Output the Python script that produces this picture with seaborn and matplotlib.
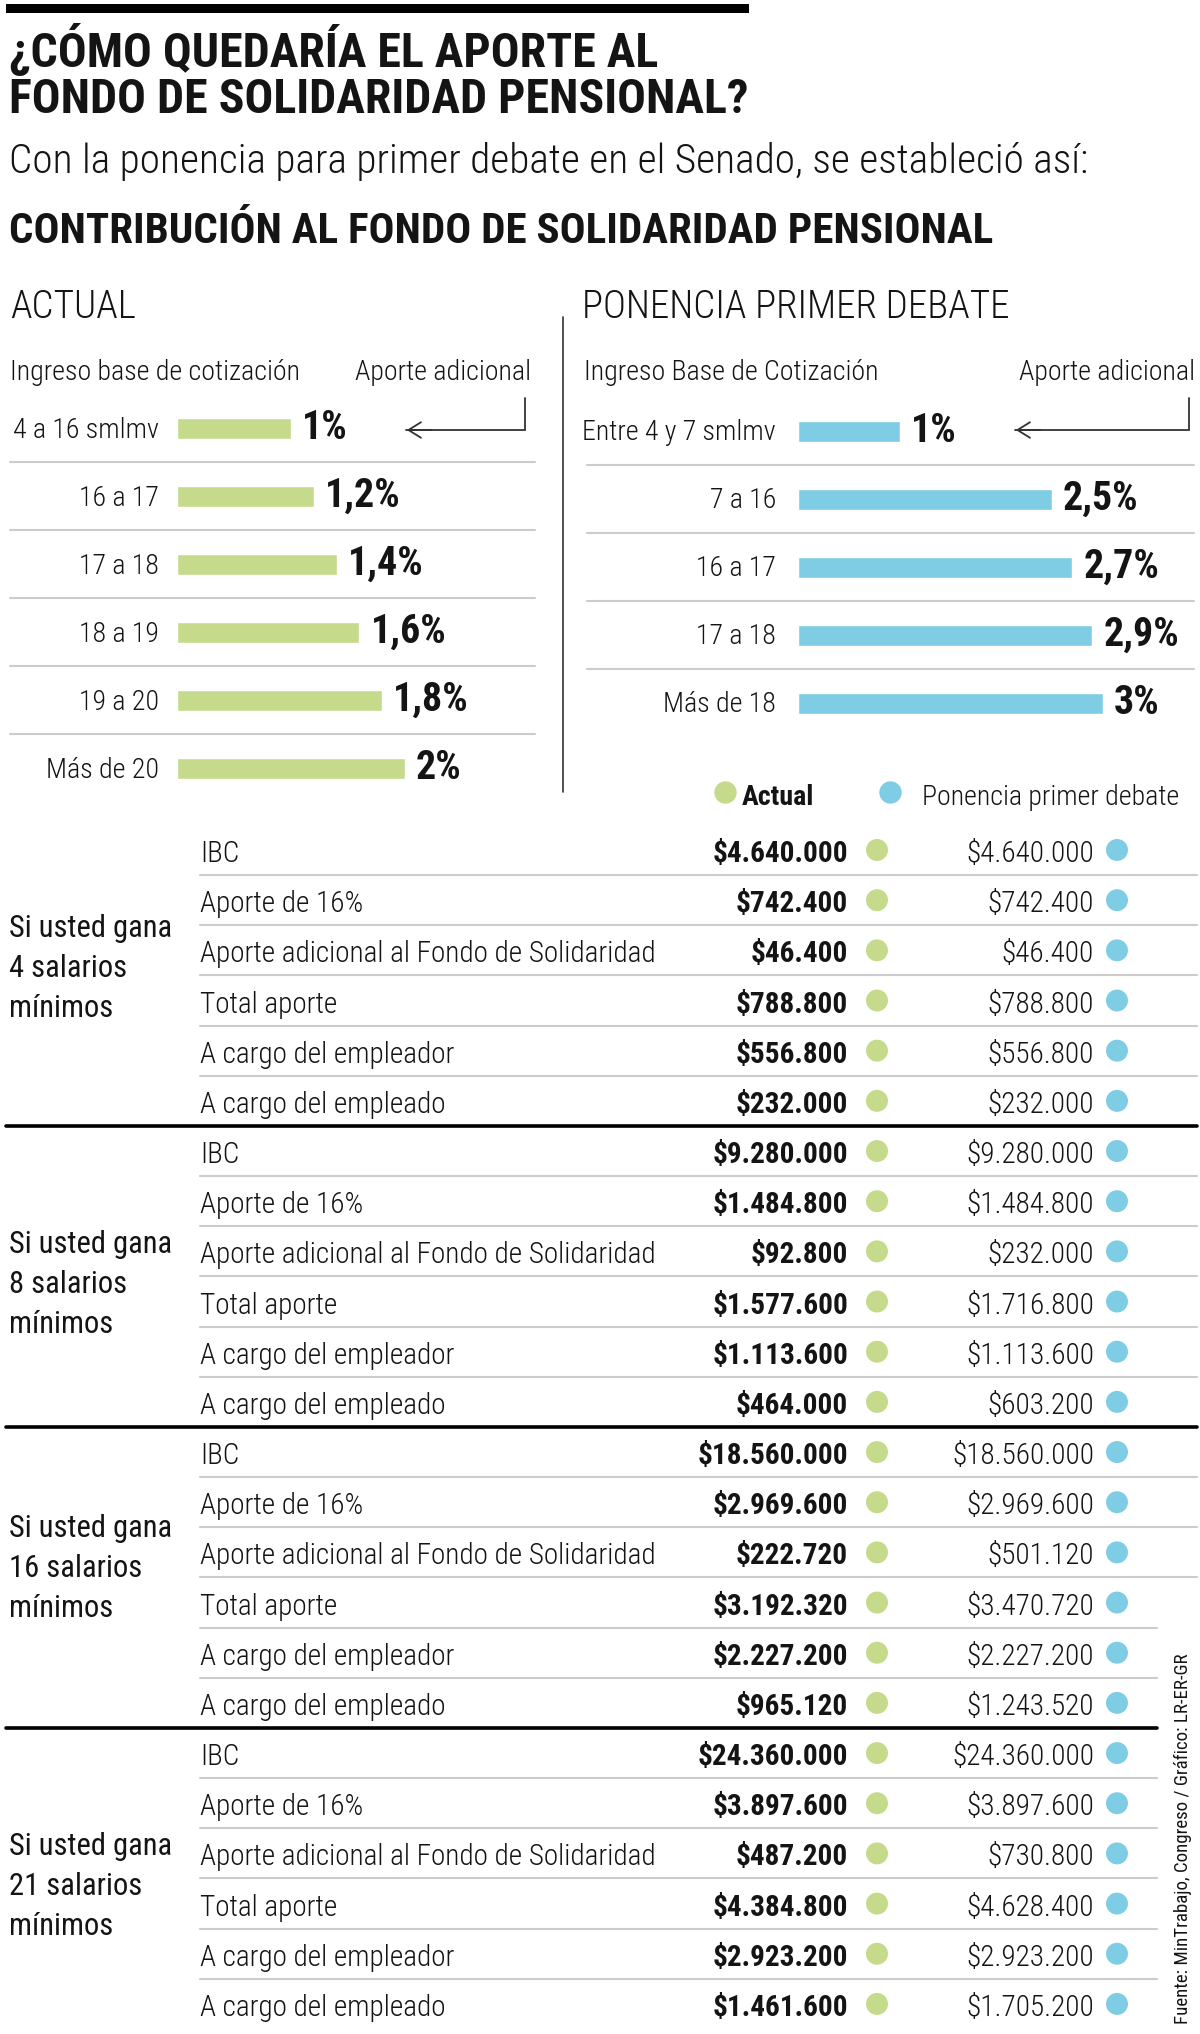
import numpy as np
import pandas as pd
import matplotlib
matplotlib.use("Agg")
import matplotlib.pyplot as plt
from matplotlib.patches import Rectangle
from matplotlib import font_manager as fm
import seaborn as sns

# ---------------- data ----------------
title_lines = ["¿CÓMO QUEDARÍA EL APORTE AL", "FONDO DE SOLIDARIDAD PENSIONAL?"]
subtitle = "Con la ponencia para primer debate en el Senado, se estableció así:"
section_title = "CONTRIBUCIÓN AL FONDO DE SOLIDARIDAD PENSIONAL"
panel_titles = ["ACTUAL", "PONENCIA PRIMER DEBATE"]
ibc_headers = ["Ingreso base de cotización", "Ingreso Base de Cotización"]
aporte_header = "Aporte adicional"

actual_ranges = ["4 a 16 smlmv", "16 a 17", "17 a 18", "18 a 19", "19 a 20", "Más de 20"]
actual_rates = [1.0, 1.2, 1.4, 1.6, 1.8, 2.0]
ponencia_ranges = ["Entre 4 y 7 smlmv", "7 a 16", "16 a 17", "17 a 18", "Más de 18"]
ponencia_rates = [1.0, 2.5, 2.7, 2.9, 3.0]

series_names = ["Actual", "Ponencia primer debate"]
group_labels = [
    ["Si usted gana", "4 salarios", "mínimos"],
    ["Si usted gana", "8 salarios", "mínimos"],
    ["Si usted gana", "16 salarios", "mínimos"],
    ["Si usted gana", "21 salarios", "mínimos"],
]
row_labels = ["IBC", "Aporte de 16%", "Aporte adicional al Fondo de Solidaridad",
              "Total aporte", "A cargo del empleador", "A cargo del empleado"]

actual_4 = [4640000, 742400, 46400, 788800, 556800, 232000]
actual_8 = [9280000, 1484800, 92800, 1577600, 1113600, 464000]
actual_16 = [18560000, 2969600, 222720, 3192320, 2227200, 965120]
actual_21 = [24360000, 3897600, 487200, 4384800, 2923200, 1461600]

ponencia_4 = [4640000, 742400, 46400, 788800, 556800, 232000]
ponencia_8 = [9280000, 1484800, 232000, 1716800, 1113600, 603200]
ponencia_16 = [18560000, 2969600, 501120, 3470720, 2227200, 1243520]
ponencia_21 = [24360000, 3897600, 730800, 4628400, 2923200, 1705200]

source_text = "Fuente: MinTrabajo, Congreso / Gráfico: LR-ER-GR"

# ---------------- style ----------------
GREEN = "#c5da8b"
BLUE = "#7fcde5"
INK = "#141414"
GRID = "#cccccc"

sns.set_theme(style="white")
fonts = fm.fontManager.ttflist
names = {f.name for f in fonts}


def pick(cands):
    for c in cands:
        if c in names:
            return c
    return "DejaVu Sans"


COND = pick(["Liberation Sans Narrow", "Roboto Condensed", "DejaVu Sans Condensed",
             "Open Sans Condensed", "Liberation Sans"])
has_light = any(f.name == COND and f.weight in (300, "light") for f in fonts)
LIGHT = "light" if has_light else "normal"
plt.rcParams["font.family"] = [COND, "DejaVu Sans"]

W, H = 1200, 2034
fig = plt.figure(figsize=(W / 100, H / 100), dpi=100)
fig.patch.set_facecolor("white")
renderer = fig.canvas.get_renderer()


def fit(s, target, weight="normal", family=COND):
    t = fig.text(0, 0, s, fontsize=20, fontweight=weight, family=family)
    w = t.get_window_extent(renderer).width
    t.remove()
    return 20.0 * target / w


ax = fig.add_axes([0, 0, 1, 1])
ax.set_xlim(0, W)
ax.set_ylim(H, 0)
ax.axis("off")


def px_axes(x0, y0, x1, y1):
    return fig.add_axes([x0 / W, 1 - y1 / H, (x1 - x0) / W, (y1 - y0) / H])


def txt(x, y, s, size, weight=None, ha="left", va="baseline", family=COND, **kw):
    ax.text(x, y, s, fontsize=size, fontweight=weight or LIGHT, ha=ha, va=va,
            family=family, color=INK, **kw)


# sizes fitted to widths measured on the reference
S_title = fit(title_lines[1], 740, "bold")
S_sub = fit(subtitle, 1074, LIGHT)
S_sec = fit(section_title, 986, "bold")
S_panel = fit(panel_titles[1], 429, LIGHT)
S_head = fit(ibc_headers[0], 290, LIGHT)
S_row = fit(row_labels[2], 455, LIGHT)
S_barv = fit("1,2%", 76, "bold")
S_group = fit("Si usted gana", 163, "normal")
S_src = fit(source_text, 370, "normal")

# ---------------- header ----------------
ax.add_patch(Rectangle((6, 4), 743, 9, color="black", lw=0))
txt(9, 67, title_lines[0], S_title, "bold")
txt(9, 113, title_lines[1], S_title, "bold")
txt(9, 173, subtitle, S_sub)
txt(9, 243, section_title, S_sec, "bold")
txt(10, 318, panel_titles[0], S_panel)
txt(582, 318, panel_titles[1], S_panel)
txt(10, 380, ibc_headers[0], S_head)
txt(531, 380, aporte_header, S_head, ha="right")
txt(584, 380, ibc_headers[1], S_head)
txt(1195, 380, aporte_header, S_head, ha="right")

# divider
ax.plot([563, 563], [317, 792], color="#333333", lw=1.2)

# arrows
for xr, xl in [(525, 404), (1189, 1013)]:
    ax.plot([xr, xr, xl + 2], [398, 430, 430], color="#333333", lw=1.3, solid_joinstyle="miter")
    ax.annotate("", xy=(xl, 430), xytext=(xl + 30, 430),
                arrowprops=dict(arrowstyle="->,head_length=0.45,head_width=0.28",
                                mutation_scale=20, color="#333333", lw=1.3))


def fmt_rate(v):
    return f"{v:g}".replace(".", ",") + "%"


# ---------------- left bars ----------------
PX_L = 114.0
yc0_L, step = 428, 68
axL = px_axes(177, yc0_L - step / 2, 177 + PX_L * 2.8, yc0_L + step * (len(actual_rates) - 0.5))
dfL = pd.DataFrame({"rango": actual_ranges, "aporte": actual_rates})
sns.barplot(data=dfL, x="aporte", y="rango", orient="h", color=GREEN, saturation=1,
            width=21 / 68, errorbar=None, ax=axL)
axL.set_xlim(0, 2.8)
axL.set_ylim(len(actual_rates) - 0.5, -0.5)
axL.axis("off")
axL.bar_label(axL.containers[0], labels=[fmt_rate(v) for v in actual_rates], padding=8,
              fontsize=S_barv, fontweight="bold", color=INK, family=COND)
for i, lab in enumerate(actual_ranges):
    txt(159, yc0_L + step * i + 10, lab, S_head, ha="right")
for i in range(len(actual_rates) - 1):
    y = yc0_L + step * i + step / 2
    ax.plot([10, 535], [y, y], color=GRID, lw=1.5)

# ---------------- right bars ----------------
PX_R = 101.5
yc0_R = 431
axR = px_axes(798, yc0_R - step / 2, 798 + PX_R * 3.9, yc0_R + step * (len(ponencia_rates) - 0.5))
dfR = pd.DataFrame({"rango": ponencia_ranges, "aporte": ponencia_rates})
sns.barplot(data=dfR, x="aporte", y="rango", orient="h", color=BLUE, saturation=1,
            width=21 / 68, errorbar=None, ax=axR)
axR.set_xlim(0, 3.9)
axR.set_ylim(len(ponencia_rates) - 0.5, -0.5)
axR.axis("off")
axR.bar_label(axR.containers[0], labels=[fmt_rate(v) for v in ponencia_rates], padding=8,
              fontsize=S_barv, fontweight="bold", color=INK, family=COND)
for i, lab in enumerate(ponencia_ranges):
    txt(776, yc0_R + step * i + 9, lab, S_head, ha="right")
for i in range(len(ponencia_rates) - 1):
    y = yc0_R + step * i + step / 2
    ax.plot([587, 1194], [y, y], color=GRID, lw=1.5)

# ---------------- legend ----------------
ax.scatter([725], [792], s=260, color=GREEN, lw=0)
ax.scatter([890], [792], s=260, color=BLUE, lw=0)
txt(742, 805, series_names[0], S_head, "bold")
txt(922, 805, series_names[1], S_head)

# ---------------- table ----------------
actual_groups = [actual_4, actual_8, actual_16, actual_21]
ponencia_groups = [ponencia_4, ponencia_8, ponencia_16, ponencia_21]
ROW0, ROWH = 850.0, 50.17
X_ACT, X_PON = 848, 1094
DOT_A, DOT_P = 877, 1117
label_shift = [-38, -23, -40, -23]


def money(v):
    return "$" + f"{v:,}".replace(",", ".")


dot_rows = []
for g in range(len(actual_groups)):
    for r, lab in enumerate(row_labels):
        k = g * 6 + r
        y = ROW0 + ROWH * k
        txt(200, y + 12, lab, S_row)
        txt(X_ACT, y + 12, money(actual_groups[g][r]), S_row, "bold", ha="right")
        txt(X_PON, y + 12, money(ponencia_groups[g][r]), S_row, ha="right")
        dot_rows.append({"x": DOT_A, "y": y, "serie": series_names[0]})
        dot_rows.append({"x": DOT_P, "y": y, "serie": series_names[1]})
        if r < 5:
            xe = 1157 if (g == 3 or (g == 2 and r >= 3)) else 1197
            ax.plot([200, xe], [y + ROWH / 2, y + ROWH / 2], color=GRID, lw=1.5)
    if g < 3:
        yb = ROW0 + ROWH * (g * 6 + 5.5)
        xe = 1157 if g == 2 else 1197
        ax.plot([6, xe], [yb, yb], color="black", lw=2.6)
    yc = ROW0 + ROWH * (g * 6 + 2.5)
    for j, line in enumerate(group_labels[g]):
        txt(9, yc + label_shift[g] + 40 * j, line, S_group, "normal")

dots = pd.DataFrame(dot_rows)
sns.scatterplot(data=dots, x="x", y="y", hue="serie", palette=[GREEN, BLUE], s=250,
                linewidth=0, legend=False, ax=ax)
ax.set_xlim(0, W)
ax.set_ylim(H, 0)
ax.axis("off")

# source
ax.text(1183, 2024, source_text, rotation=90, ha="center", va="bottom",
        fontsize=S_src, family=COND, color=INK)

fig.savefig("out.png", dpi=100, facecolor="white")
